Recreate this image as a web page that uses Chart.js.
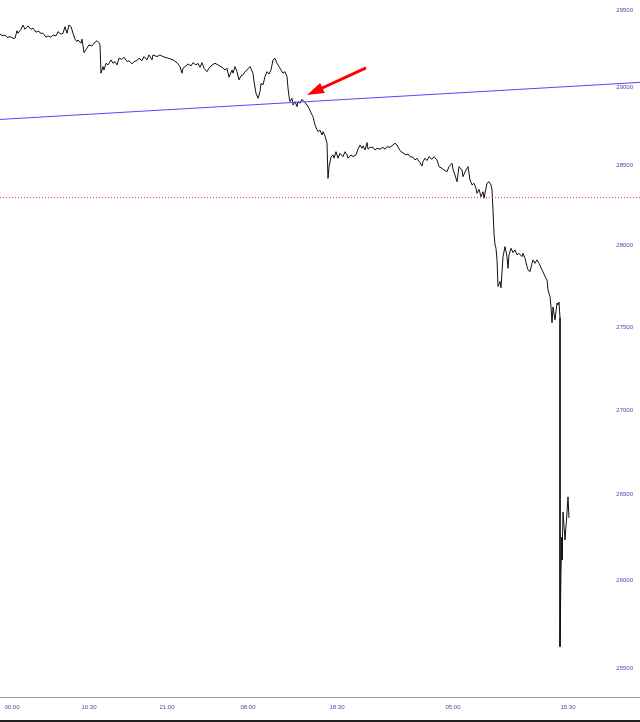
<!DOCTYPE html>
<html>
<head>
<meta charset="utf-8">
<script src="https://cdn.jsdelivr.net/npm/chart.js@4.4.1/dist/chart.umd.min.js"></script>
<style>
  body { margin: 0; background: #fff; }
  #wrap { width: 640px; height: 720px; border-bottom: 2px solid #222; }
</style>
</head>
<body>
<div id="wrap"><canvas id="myChart" width="640" height="720"></canvas></div>
<script>
// bar index (one bar per step of the chart) and close price
var bars = [
  0,3,5,7,10,13,15,17,18,21,
  23,25,28,31,33,36,38,41,43,46,
  48,51,53,56,58,61,63,65,67,69,
  71,73,75,77,78,81,82,84,87,89,
  92,94,97,99,100,101,103,104,106,108,
  111,113,115,117,119,122,124,127,129,132,
  134,137,139,142,144,147,149,152,153,157,
  160,163,168,173,177,180,182,183,186,188,
  191,193,196,198,200,202,204,207,209,212,
  215,218,222,225,227,229,232,233,235,237,
  239,241,243,245,247,250,253,254,256,258,
  260,261,263,265,267,269,271,273,275,277,
  279,281,283,285,287,288,289,290,292,293,
  295,297,298,300,302,304,307,309,312,313,
  315,317,318,320,322,323,325,327,328,329,
  331,333,334,336,338,340,343,345,347,348,
  351,353,356,358,360,362,363,365,367,368,
  370,373,375,377,380,383,385,387,390,393,
  395,397,400,403,406,408,410,413,415,417,
  418,420,422,423,425,427,429,432,434,437,
  439,442,444,447,449,452,453,456,457,459,
  462,463,466,468,470,472,474,476,477,479,
  481,483,484,486,487,489,491,492,493,494,
  495,496,497,498,500,501,503,505,507,508,
  509,511,513,515,517,519,522,523,525,527,
  528,530,532,533,535,537,539,542,543,545,
  547,548,550,551,552,553,555,557,558,559,
  560,560,561,562,562,563,565,567,568,569
];
var prices = [
  29342,29331,29337,29322,29326,29316,29316,29365,29348,29374,
  29402,29374,29396,29374,29381,29355,29363,29348,29348,29322,
  29332,29322,29337,29331,29359,29342,29348,29391,29348,29402,
  29391,29348,29310,29294,29305,29284,29310,29223,29252,29273,
  29266,29284,29300,29287,29273,29090,29133,29111,29154,29143,
  29176,29154,29165,29143,29187,29180,29193,29165,29171,29150,
  29165,29171,29187,29171,29197,29176,29208,29176,29208,29197,
  29208,29197,29187,29176,29158,29132,29090,29122,29137,29150,
  29137,29158,29143,29154,29128,29158,29122,29100,29122,29143,
  29154,29143,29128,29111,29122,29064,29111,29090,29133,29100,
  29047,29073,29079,29100,29111,29133,29090,29036,28961,28929,
  28972,29025,29015,29068,29100,29085,29111,29176,29187,29154,
  29133,29111,29090,29100,29068,28995,28940,28908,28929,28886,
  28908,28876,28908,28897,28923,28908,28886,28865,28823,28812,
  28759,28727,28716,28727,28695,28716,28689,28643,28421,28494,
  28556,28569,28548,28589,28548,28579,28558,28589,28569,28548,
  28569,28558,28569,28605,28632,28611,28626,28600,28647,28605,
  28617,28617,28600,28611,28605,28617,28605,28621,28617,28632,
  28643,28632,28596,28581,28569,28575,28558,28554,28537,28548,
  28537,28520,28499,28526,28548,28533,28558,28541,28558,28537,
  28495,28484,28474,28463,28495,28516,28479,28421,28400,28495,
  28474,28432,28474,28495,28411,28380,28390,28359,28327,28352,
  28306,28337,28296,28359,28390,28400,28380,28348,28223,28078,
  28005,27985,27913,27749,27780,27741,27933,27995,27933,27861,
  27944,27985,27958,27975,27944,27954,27933,27954,27923,27872,
  27851,27840,27892,27913,27892,27913,27892,27851,27840,27810,
  27789,27728,27687,27626,27527,27624,27545,27648,27636,27654,
  27557,25624,26062,26253,26120,26399,26236,26393,26487,26364
];

var xTickBars = [12, 89, 167, 248, 337, 453, 568];
var xTickLabels = ['00:00', '10:30', '21:00', '08:00', '18:30', '05:00', '15:30'];
var yTicks = [25500, 26000, 26500, 27000, 27500, 28000, 28500, 29000, 29500];

// trend line (start / end bar and price), support level, arrow
var trendBars = [0, 640];
var trendPrices = [28794, 29031];
var supportLevel = 28300;
var arrowFrom = { bar: 366, price: 29124 };
var arrowTo = { bar: 307, price: 28950 };

var labelColor = '#4a4aa6';
var tickFont = { family: 'Liberation Sans', size: 6 };

var priceData = bars.map(function (b, i) { return { x: b, y: prices[i] }; });
var trendData = trendBars.map(function (b, i) { return { x: b, y: trendPrices[i] }; });
var supportData = trendBars.map(function (b) { return { x: b, y: supportLevel }; });

var arrowPlugin = {
  id: 'arrow',
  afterDatasetsDraw: function (chart) {
    var ctx = chart.ctx, xs = chart.scales.x, ys = chart.scales.y;
    var x1 = xs.getPixelForValue(arrowFrom.bar), y1 = ys.getPixelForValue(arrowFrom.price);
    var x2 = xs.getPixelForValue(arrowTo.bar), y2 = ys.getPixelForValue(arrowTo.price);
    var dx = x2 - x1, dy = y2 - y1, len = Math.sqrt(dx * dx + dy * dy);
    var ux = dx / len, uy = dy / len;
    var head = 17, half = 5.5;
    var bx = x2 - ux * head, by = y2 - uy * head;
    ctx.save();
    ctx.strokeStyle = '#ff0000';
    ctx.fillStyle = '#ff0000';
    ctx.lineWidth = 3;
    ctx.beginPath();
    ctx.moveTo(x1, y1);
    ctx.lineTo(bx + ux * 2, by + uy * 2);
    ctx.stroke();
    ctx.beginPath();
    ctx.moveTo(x2, y2);
    ctx.lineTo(bx - uy * half, by + ux * half);
    ctx.lineTo(bx + uy * half, by - ux * half);
    ctx.closePath();
    ctx.fill();
    ctx.restore();
  }
};

var ctx = document.getElementById('myChart').getContext('2d');
var myChart = new Chart(ctx, {
  type: 'line',
  data: {
    datasets: [{
      data: supportData,
      borderColor: '#ff3333',
      borderWidth: 1,
      borderDash: [1, 2]
    }, {
      data: trendData,
      borderColor: '#4a4aff',
      borderWidth: 1
    }, {
      data: priceData,
      borderColor: '#111111',
      borderWidth: 1
    }]
  },
  options: {
    responsive: false,
    animation: false,
    devicePixelRatio: 1,
    layout: { padding: 0 },
    elements: { point: { radius: 0 }, line: { tension: 0 } },
    plugins: { legend: { display: false }, tooltip: { enabled: false } },
    scales: {
      x: {
        type: 'linear',
        min: 0,
        max: 640,
        grid: { display: false, drawTicks: false },
        border: { display: true, color: '#9a9a9a', width: 1 },
        afterBuildTicks: function (scale) {
          scale.ticks = xTickBars.map(function (v) { return { value: v }; });
        },
        afterFit: function (scale) {
          scale.height = 23;
          scale.paddingLeft = 0;
          scale.paddingRight = 0;
        },
        ticks: {
          autoSkip: false,
          maxRotation: 0,
          padding: 7,
          color: labelColor,
          font: tickFont,
          callback: function (v) { return xTickLabels[xTickBars.indexOf(v)]; }
        }
      },
      y: {
        type: 'logarithmic',
        position: 'right',
        min: 25340,
        max: 29565,
        grid: { display: false, drawTicks: false },
        border: { display: false },
        afterBuildTicks: function (scale) {
          scale.ticks = yTicks.map(function (v) { return { value: v }; });
        },
        afterFit: function (scale) {
          scale.width = 0;
          scale.paddingTop = 0;
          scale.paddingBottom = 0;
        },
        ticks: {
          mirror: true,
          padding: -7,
          color: labelColor,
          font: tickFont,
          callback: function (v) { return String(v); }
        }
      }
    }
  },
  plugins: [arrowPlugin]
});
</script>
</body>
</html>
